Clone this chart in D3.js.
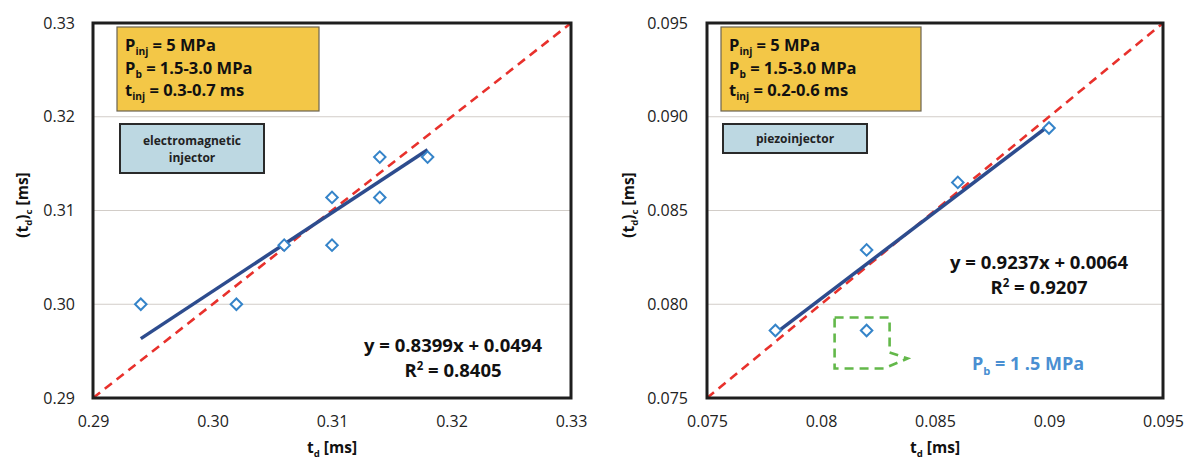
<!DOCTYPE html>
<html><head><meta charset="utf-8">
<script src="https://cdn.jsdelivr.net/npm/d3@7"></script>
<style>html,body{margin:0;padding:0;background:#fff;}svg{display:block;}</style>
</head><body>
<svg id="chart" width="1188" height="461"></svg>
<script>
// ---------- DATA ----------
// Left panel: electromagnetic injector
const emTd = [0.294, 0.302, 0.306, 0.310, 0.310, 0.314, 0.314, 0.318];
const emTdc = [0.300, 0.300, 0.3063, 0.3063, 0.3114, 0.3114, 0.3157, 0.3157];
const emFit = [0.8399, 0.0494];        // slope, intercept
const emFitRange = [0.294, 0.318];
const emDomain = [0.29, 0.33];
const emXTicks = [0.29, 0.30, 0.31, 0.32, 0.33];
const emXTickLabels = ["0.29", "0.30", "0.31", "0.32", "0.33"];
const emYTicks = [0.29, 0.30, 0.31, 0.32, 0.33];
const emYTickLabels = ["0.29", "0.30", "0.31", "0.32", "0.33"];
const emEquation = ["y = 0.8399x + 0.0494", "0.8405"];
const emConditions = ["5 MPa", "1.5-3.0 MPa", "0.3-0.7 ms"];
const emType = ["electromagnetic", "injector"];

// Right panel: piezoinjector
const piTd = [0.078, 0.082, 0.082, 0.086, 0.090];
const piTdc = [0.0786, 0.0829, 0.0786, 0.0865, 0.0894];
const piFit = [0.9237, 0.0064];
const piFitRange = [0.078, 0.090];
const piDomain = [0.075, 0.095];
const piXTicks = [0.075, 0.080, 0.085, 0.090, 0.095];
const piXTickLabels = ["0.075", "0.08", "0.085", "0.09", "0.095"];
const piYTicks = [0.075, 0.080, 0.085, 0.090, 0.095];
const piYTickLabels = ["0.075", "0.080", "0.085", "0.090", "0.095"];
const piEquation = ["y = 0.9237x + 0.0064", "0.9207"];
const piConditions = ["5 MPa", "1.5-3.0 MPa", "0.2-0.6 ms"];
const piType = ["piezoinjector"];
const piOutlier = [0.082, 0.0786];
const piOutlierNote = ["1 .5 MPa"];

// ---------- DRAWING ----------
const svg = d3.select("#chart");
const FONT = "'Open Sans', 'Liberation Sans', sans-serif";

function richText(g, x, y, parts, opts) {
  const t = g.append("text").attr("x", x).attr("y", y)
    .attr("font-family", FONT).attr("font-size", opts.size)
    .attr("font-weight", opts.weight || "bold").attr("fill", opts.fill || "#111")
    .attr("text-anchor", opts.anchor || "start");
  parts.forEach(p => {
    const ts = t.append("tspan").text(p.t);
    if (p.sub) ts.attr("font-size", opts.size * 0.62).attr("dy", opts.size * 0.27);
    else if (p.sup) ts.attr("font-size", opts.size * 0.62).attr("dy", -opts.size * 0.38);
    else if (p.reset) ts.attr("dy", p.reset * opts.size);
  });
  return t;
}

function panel(cfg) {
  const g = svg.append("g");
  const x = d3.scaleLinear().domain(cfg.domain).range([cfg.left, cfg.right]);
  const y = d3.scaleLinear().domain(cfg.domain).range([cfg.bottom, cfg.top]);

  // gridlines
  g.append("g").selectAll("line").data(cfg.yTicks.slice(1, -1)).join("line")
    .attr("x1", cfg.left).attr("x2", cfg.right)
    .attr("y1", d => y(d)).attr("y2", d => y(d))
    .attr("stroke", "#d2cdc8").attr("stroke-width", 1.2);

  // axes (labels only)
  const ya = g.append("g").attr("transform", `translate(${cfg.left},0)`)
    .call(d3.axisLeft(y).tickValues(cfg.yTicks).tickFormat((d, i) => cfg.yLabels[i]).tickSize(0).tickPadding(cfg.yPad));
  const xa = g.append("g").attr("transform", `translate(0,${cfg.bottom})`)
    .call(d3.axisBottom(x).tickValues(cfg.xTicks).tickFormat((d, i) => cfg.xLabels[i]).tickSize(0).tickPadding(18));
  [ya, xa].forEach(a => {
    a.select(".domain").remove();
    a.selectAll("text").attr("font-family", FONT).attr("font-size", 16).attr("fill", "#222");
  });

  // identity (y = x) dashed line
  g.append("line")
    .attr("x1", x(cfg.domain[0])).attr("y1", y(cfg.domain[0]))
    .attr("x2", x(cfg.domain[1])).attr("y2", y(cfg.domain[1]))
    .attr("stroke", "#e8312c").attr("stroke-width", 2.6).attr("stroke-dasharray", "9,6");

  // trend line
  const fy = v => cfg.fit[0] * v + cfg.fit[1];
  g.append("line")
    .attr("x1", x(cfg.fitRange[0])).attr("y1", y(fy(cfg.fitRange[0])))
    .attr("x2", x(cfg.fitRange[1])).attr("y2", y(fy(cfg.fitRange[1])))
    .attr("stroke", "#2d4c8e").attr("stroke-width", 3.5);

  // points
  const sym = d3.symbol().type(d3.symbolSquare).size(66);
  g.append("g").selectAll("path").data(cfg.xs.map((v, i) => [v, cfg.ys[i]])).join("path")
    .attr("d", sym)
    .attr("transform", d => `translate(${x(d[0])},${y(d[1])}) rotate(45)`)
    .attr("fill", "#fff").attr("stroke", "#3584c9").attr("stroke-width", 2);

  // frame
  g.append("rect").attr("x", cfg.left).attr("y", cfg.top)
    .attr("width", cfg.right - cfg.left).attr("height", cfg.bottom - cfg.top)
    .attr("fill", "none").attr("stroke", "#1e1e1e").attr("stroke-width", 3);

  // conditions box
  const yb = cfg.yellowBox;
  g.append("rect").attr("x", yb[0]).attr("y", yb[1]).attr("width", yb[2]).attr("height", yb[3])
    .attr("fill", "#f3c747").attr("stroke", "#6b6350").attr("stroke-width", 1.2);
  const tx = yb[0] + 8;
  const opt = {size: 16.5};
  richText(g, tx, 51, [{t: "P"}, {t: "inj", sub: true}, {t: " = " + cfg.conditions[0], reset: -0.27}], opt);
  richText(g, tx, 74, [{t: "P"}, {t: "b", sub: true}, {t: " = " + cfg.conditions[1], reset: -0.27}], opt);
  richText(g, tx, 96, [{t: "t"}, {t: "inj", sub: true}, {t: " = " + cfg.conditions[2], reset: -0.27}], opt);

  // injector type box
  const bb = cfg.blueBox;
  g.append("rect").attr("x", bb[0]).attr("y", bb[1]).attr("width", bb[2]).attr("height", bb[3])
    .attr("fill", "#bdd8e2").attr("stroke", "#2a2a2a").attr("stroke-width", 2);
  const lines = cfg.type;
  const cy = bb[1] + bb[3] / 2;
  lines.forEach((s, i) => {
    g.append("text").attr("x", bb[0] + bb[2] / 2)
      .attr("y", cy + (i - (lines.length - 1) / 2) * 17 + 4.5)
      .attr("text-anchor", "middle").attr("font-family", FONT).attr("font-size", 12)
      .attr("font-weight", "bold").attr("fill", "#222").text(s);
  });

  // equation
  g.append("text").attr("x", cfg.eqPos[0]).attr("y", cfg.eqPos[1])
    .attr("text-anchor", "middle").attr("font-family", FONT).attr("font-size", 18.5)
    .attr("font-weight", "bold").attr("fill", "#111").text(cfg.equation[0]);
  richText(g, cfg.eqPos[0], cfg.eqPos[1] + 25, [{t: "R"}, {t: "2", sup: true}, {t: " = " + cfg.equation[1], reset: 0.38}], {size: 18.5, anchor: "middle"});

  // axis titles
  richText(g, (cfg.left + cfg.right) / 2, 453, [{t: "t"}, {t: "d", sub: true}, {t: " [ms]", reset: -0.27}], {size: 15.5, anchor: "middle"});
  const yt = g.append("g").attr("transform", `translate(${cfg.yTitleX},205) rotate(-90)`);
  richText(yt, 0, 0, [{t: "(t"}, {t: "d", sub: true}, {t: ")", reset: -0.27}, {t: "c", sub: true}, {t: " [ms]", reset: -0.27}], {size: 15.5, anchor: "middle"});

  return {g, x, y};
}

panel({
  domain: emDomain, left: 93, right: 571, top: 23, bottom: 398, yPad: 18,
  xs: emTd, ys: emTdc, fit: emFit, fitRange: emFitRange,
  xTicks: emXTicks, xLabels: emXTickLabels, yTicks: emYTicks, yLabels: emYTickLabels,
  equation: emEquation, conditions: emConditions, type: emType,
  yellowBox: [117, 27, 202, 84], blueBox: [120, 124, 144, 49],
  eqPos: [453, 352], yTitleX: 28
});

const right = panel({
  domain: piDomain, left: 707, right: 1163, top: 23, bottom: 398, yPad: 19,
  xs: piTd, ys: piTdc, fit: piFit, fitRange: piFitRange,
  xTicks: piXTicks, xLabels: piXTickLabels, yTicks: piYTicks, yLabels: piYTickLabels,
  equation: piEquation, conditions: piConditions, type: piType,
  yellowBox: [721, 27, 200, 84], blueBox: [723, 124, 144, 29],
  eqPos: [1039, 269], yTitleX: 634
});

// callout around the outlier point (Pb = 1.5 MPa)
{
  const px = right.x(piOutlier[0]), py = right.y(piOutlier[1]);
  const l = px - 32, r = px + 23, t = py - 13, b = py + 38;
  right.g.append("path")
    .attr("d", `M${l},${t} H${r} V${b - 16} L${r + 18},${b - 10} L${r - 6},${b} H${l} Z`)
    .attr("fill", "none").attr("stroke", "#63b84a").attr("stroke-width", 2.6)
    .attr("stroke-dasharray", "9,6");
  richText(right.g, 1028, 370, [{t: "P"}, {t: "b", sub: true}, {t: " = " + piOutlierNote[0], reset: -0.27}],
    {size: 18, anchor: "middle", fill: "#4a8fd2"});
}
</script>
</body></html>
